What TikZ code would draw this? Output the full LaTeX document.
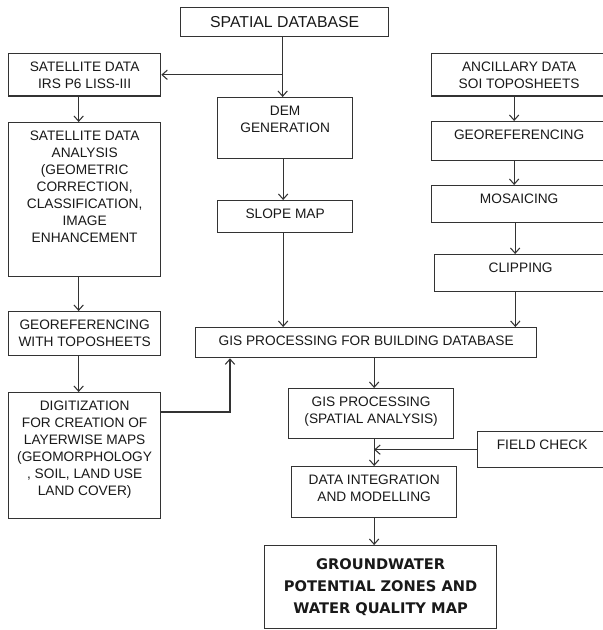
\documentclass[tikz,border=0pt]{standalone}
\usepackage{fontspec}
\setmainfont{Liberation Sans}
\newfontfamily\gwfont{DejaVu Sans}
\usetikzlibrary{arrows.meta}

\newcommand{\bls}{14.6pt}
\tikzset{bb/.style={draw=black!80, line width=1.1pt, align=center, anchor=north west, inner xsep=0pt, inner ysep=6.5pt, text=black!90, font=\fontsize{11.7}{\bls}\selectfont},
         wh/.style n args={3}{minimum width=#1*0.03cm, text height=(#3-1)*\bls+8.5pt, text depth=#2*0.03cm-21.5pt-(#3-1)*\bls},
         cb/.style={draw=black!80, line width=1.1pt, align=center, anchor=north west, inner sep=0pt, text=black!90}}

\begin{document}
\begin{tikzpicture}[x=0.03cm, y=-0.03cm, >={Straight Barb[length=4.5pt, width=8pt]}, line width=0.9pt, black!80]
    \path[use as bounding box, fill=white] (0,0) rectangle (603,630);

    \node[cb, minimum width=208*0.03cm, minimum height=29*0.03cm, font=\fontsize{13.5}{16}\selectfont] (spatial) at (180,7) {SPATIAL DATABASE};

    \node[bb, wh={152}{39}{2}] (sat1) at (8,53) {SATELLITE DATA\\IRS P6 LISS-III};
    \node[bb, wh={152}{154}{7}] (sat2) at (8,122) {SATELLITE DATA\\ANALYSIS\\(GEOMETRIC\\CORRECTION,\\CLASSIFICATION,\\IMAGE\\ENHANCEMENT};
    \node[bb, wh={152}{44}{2}] (geoL) at (8,311) {GEOREFERENCING\\WITH TOPOSHEETS};
    \node[bb, wh={152}{126}{6}] (digit) at (8,392) {DIGITIZATION\\FOR CREATION OF\\LAYERWISE MAPS\\(GEOMORPHOLOGY\\, SOIL, LAND USE\\LAND COVER)};

    \node[bb, wh={135}{61}{2}] (dem) at (217,97) {DEM\\GENERATION};
    \node[bb, wh={135}{32}{1}] (slope) at (217,200) {SLOPE MAP};

    \node[bb, wh={175}{39}{2}] (anc) at (431,53) {ANCILLARY DATA\\SOI TOPOSHEETS};
    \node[bb, wh={175}{39}{1}] (geoR) at (431,121) {GEOREFERENCING};
    \node[bb, wh={175}{37}{1}] (mos) at (431,185) {MOSAICING};
    \node[bb, wh={172}{37}{1}] (clip) at (434,254) {CLIPPING};

    \node[bb, wh={341}{30}{1}] (gisb) at (195,327) {GIS PROCESSING FOR BUILDING DATABASE};
    \node[bb, wh={165}{50}{2}] (gisp) at (288,388) {GIS PROCESSING\\(SPATIAL ANALYSIS)};
    \node[bb, wh={129}{36}{1}] (field) at (477,431) {FIELD CHECK};
    \node[bb, wh={165}{51}{2}] (dint) at (291,466) {DATA INTEGRATION\\AND MODELLING};

    \node[cb, minimum width=232*0.03cm, minimum height=83*0.03cm, font=\gwfont\bfseries\fontsize{12.5}{18.8}\selectfont] (gw) at (264,545) {GROUNDWATER\\POTENTIAL ZONES AND\\WATER QUALITY MAP};

    \draw[->] ([xshift=-0.06cm]spatial.south) -- ([xshift=-0.06cm]spatial.south |- dem.north);
    \draw[->] ([xshift=-0.06cm]spatial.south |- sat1.east) -- (sat1.east);

    \draw[->] ([xshift=-0.18cm]sat1.south) -- ([xshift=-0.18cm]sat2.north);
    \draw[->] ([xshift=-0.18cm]sat2.south) -- ([xshift=-0.18cm]geoL.north);
    \draw[->] ([xshift=-0.18cm]geoL.south) -- ([xshift=-0.18cm]digit.north);

    \draw[->] ([xshift=-0.06cm]dem.south) -- ([xshift=-0.06cm]slope.north);
    \draw[->] ([xshift=-0.06cm]slope.south) -- ([xshift=-0.06cm]slope.south |- gisb.north);

    \draw[->] ([xshift=-0.15cm]anc.south) -- ([xshift=-0.15cm]geoR.north);
    \draw[->] ([xshift=-0.15cm]geoR.south) -- ([xshift=-0.15cm]mos.north);
    \draw[->] ([xshift=-0.12cm]mos.south) -- ([xshift=-0.12cm]mos.south |- clip.north);
    \draw[->] ([xshift=-0.16cm]clip.south) -- ([xshift=-0.16cm]clip.south |- gisb.north);

    \draw[->] ([yshift=-0.6cm]digit.north east) -| ([xshift=1.05cm]gisb.south west);

    \draw[->] (dint.north |- gisb.south) -- (dint.north |- gisp.north);
    \draw[->] (dint.north |- gisp.south) -- (dint.north);
    \draw[->] (field.west) -- (field.west -| dint.north);
    \draw[->] (dint.south) -- (dint.south |- gw.north);

\end{tikzpicture}
\end{document}
